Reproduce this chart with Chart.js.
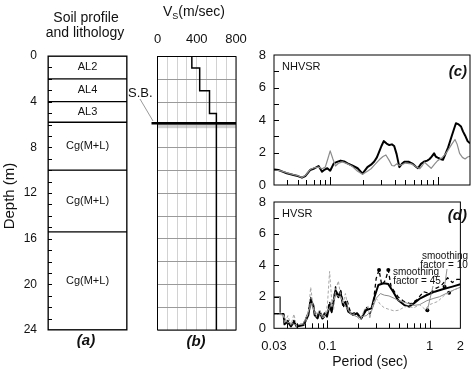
<!DOCTYPE html>
<html lang="en">
<head>
<meta charset="UTF-8">
<title>Soil profile, Vs profile and HVSR</title>
<script src="https://cdn.jsdelivr.net/npm/chart.js"></script>
<style>
  body { margin: 0; background: #fff; }
  #wrap { position: relative; width: 474px; height: 369px; }
  canvas { position: absolute; left: 0; top: 0; }
</style>
</head>
<body>
<div id="wrap">
  <canvas id="chartA" width="474" height="369"></canvas>
  <canvas id="chartB" width="474" height="369"></canvas>
  <canvas id="chartC" width="474" height="369"></canvas>
  <canvas id="chartD" width="474" height="369"></canvas>
</div>
<script>
// (a) soil layers
const layerNames = ['AL2', 'AL4', 'AL3', 'Cg(M+L)', 'Cg(M+L)', 'Cg(M+L)'];
const layerTop = [0, 2, 4, 5.8, 10, 15.4];
const layerBottom = [2, 4, 5.8, 10, 15.4, 24];

// (b) shear wave velocity profile
const vsDepth = [0, 1, 1, 3, 3, 5, 5, 24];
const vsValue = [350, 350, 430, 430, 530, 530, 600, 600];
const sbDepth = 5.85;

// (c) NHVSR
const periodC1 = [0.03,0.033,0.036,0.0394,0.042,0.0455,0.05,0.0546,0.0586,0.062,0.065,0.07,0.074,0.078,0.084,0.089,0.094,0.1,0.108,0.116,0.125,0.135,0.145,0.16,0.18,0.2,0.222,0.24,0.257,0.272,0.286,0.3,0.315,0.335,0.355,0.375,0.394,0.415,0.44,0.465,0.49,0.54,0.588,0.62,0.656,0.7,0.755,0.8,0.842,0.88,0.926,0.96,1.0,1.06,1.12,1.18,1.25,1.35,1.42,1.48,1.55,1.65,1.72,1.8,1.9,2.0];
const nhvsrBlack = [0.96,0.92,0.82,0.72,0.68,0.62,0.55,0.45,0.55,0.75,0.92,1.0,1.08,1.17,0.82,0.95,1.03,0.88,1.33,1.42,1.5,1.45,1.33,1.2,1.03,0.7,1.1,1.25,1.45,1.7,2.05,2.4,2.7,2.55,2.46,2.5,2.4,1.9,1.1,1.3,1.43,1.43,1.3,1.15,1.03,1.3,1.45,1.5,1.6,1.75,1.95,1.75,1.68,1.6,1.55,1.9,2.3,3.0,3.45,3.8,3.75,3.6,3.3,3.05,2.7,2.56];
const periodC2 = [0.03,0.036,0.042,0.05,0.0546,0.0586,0.065,0.07,0.078,0.084,0.09,0.095,0.1,0.106,0.112,0.12,0.13,0.145,0.16,0.18,0.2,0.222,0.24,0.26,0.286,0.31,0.33,0.355,0.375,0.394,0.415,0.44,0.465,0.5,0.57,0.62,0.68,0.72,0.755,0.8,0.87,0.94,1.0,1.08,1.18,1.25,1.35,1.45,1.52,1.6,1.7,1.8,1.9,2.0];
const nhvsrGray = [0.96,0.84,0.7,0.57,0.47,0.58,0.95,1.05,1.1,1.0,1.1,1.6,2.1,1.6,1.17,1.35,1.42,1.3,1.15,0.85,0.66,0.85,1.0,1.25,1.55,1.75,1.85,1.5,1.2,1.17,1.3,1.2,1.25,1.35,1.3,1.15,1.0,1.2,1.4,1.25,1.03,1.3,1.5,1.64,1.9,2.15,2.5,2.8,2.5,1.95,1.7,1.6,1.72,1.77];

// (d) HVSR
const periodD1 = [0.03,0.0372,0.038,0.0408,0.0439,0.0472,0.05,0.0586,0.065,0.0686,0.0727,0.075,0.08,0.084,0.089,0.094,0.099,0.105,0.11,0.12,0.127,0.134,0.142,0.15,0.16,0.18,0.193,0.214,0.24,0.27,0.286,0.315,0.355,0.394,0.44,0.49,0.565,0.63,0.7,0.81,0.94,1.12,1.34,1.67,2.0];
const hvsrSmooth45 = [0.9,0.9,0.25,0.42,0.12,0.42,0.12,0.21,0.84,1.79,1.47,0.84,0.63,1.05,0.63,0.95,0.74,1.47,1.05,2.42,2.0,2.32,1.47,1.68,1.05,0.84,0.95,0.63,1.16,1.26,1.9,2.74,2.85,2.8,2.32,1.79,1.47,1.37,1.58,1.9,2.11,2.32,2.47,2.64,2.79];
const periodD2 = [0.03,0.0372,0.038,0.041,0.044,0.047,0.05,0.058,0.065,0.0686,0.073,0.078,0.084,0.09,0.099,0.105,0.11,0.12,0.128,0.135,0.145,0.155,0.17,0.193,0.215,0.24,0.26,0.28,0.3,0.32,0.34,0.37,0.394,0.42,0.49,0.56,0.65,0.75,0.87,1.0,1.15,1.3,1.5,1.67,1.85,2.0];
const hvsrSmooth10 = [0.9,0.9,0.3,0.5,0.15,0.5,0.15,0.25,1.0,1.95,1.3,0.7,1.1,0.6,0.9,1.7,1.0,2.63,1.9,2.4,1.3,1.8,0.9,1.05,0.6,1.37,0.9,1.5,3.16,3.69,2.74,3.05,3.69,2.63,2.0,1.7,1.55,1.8,2.32,2.2,2.53,2.7,3.2,2.9,3.1,3.1];
const periodD3 = [0.03,0.037,0.04,0.045,0.05,0.058,0.065,0.069,0.075,0.084,0.094,0.105,0.12,0.134,0.15,0.17,0.2,0.24,0.27,0.3,0.33,0.36,0.4,0.45,0.5,0.6,0.7,0.8,0.94,1.1,1.25,1.5,1.75,2.0];
const hvsrGray = [0.9,0.85,0.4,0.3,0.2,0.3,1.0,1.6,1.0,0.9,0.8,1.3,2.1,2.0,1.4,0.9,0.7,0.8,1.1,1.9,2.2,2.1,2.05,1.9,1.75,1.6,1.45,1.5,1.75,1.9,2.0,2.25,2.45,2.6];
const periodD4 = [0.03,0.037,0.038,0.041,0.044,0.047,0.05,0.055,0.06,0.065,0.0686,0.072,0.077,0.084,0.09,0.096,0.1,0.105,0.11,0.115,0.12,0.128,0.135,0.142,0.15,0.16,0.175,0.19,0.21,0.23,0.25,0.26,0.28,0.3,0.33,0.36,0.4,0.45,0.5,0.55,0.6,0.7,0.8,0.9,1.0,1.2,1.4,1.7,2.0];
const hvsrRaw = [0.9,0.9,0.3,0.8,0.2,0.9,0.1,0.3,0.2,1.0,2.6,1.5,0.7,1.2,0.6,1.0,1.5,3.6,1.8,1.2,2.4,3.0,2.0,1.6,2.2,1.2,0.9,0.8,0.5,1.2,1.4,0.6,1.6,1.9,1.5,1.3,1.2,1.1,1.15,1.3,1.4,1.3,1.5,1.2,1.5,1.7,2.1,2.4,2.6];
const boxPeriod = [0.03, 0.0345, 0.0345];
const boxValue = [2.0, 2.0, 1.0];
const markPeriod = [0.32, 0.394, 1.4, 1.55, 0.95];
const markValue = [3.69, 3.69, 2.63, 2.25, 1.15];

const periodTicks = [0.03, 0.1, 1, 2];
const periodMinor = [0.04,0.05,0.06,0.07,0.08,0.09,0.2,0.3,0.4,0.5,0.6,0.7,0.8,0.9];
const periodMajor = [0.1, 1];

Chart.defaults.font.family = '"Liberation Sans", Arial, sans-serif';
Chart.defaults.color = '#111';

const FONT = '"Liberation Sans", Arial, sans-serif';

function txt(ctx, s, x, y, size, align, style) {
    ctx.font = (style ? style + ' ' : '') + size + 'px ' + FONT;
    ctx.textAlign = align || 'center';
    ctx.textBaseline = 'middle';
    ctx.fillStyle = '#111';
    ctx.fillText(s, x, y);
}

function frame(ctx, a) {
    ctx.save();
    ctx.strokeStyle = '#000';
    ctx.lineWidth = 1;
    ctx.strokeRect(a.left, a.top, a.right - a.left, a.bottom - a.top);
    ctx.restore();
}

function pts(xs, ys) {
    return xs.map((x, i) => ({ x: x, y: ys[i] }));
}

const baseOpts = {
    responsive: false,
    animation: false,
    events: [],
    plugins: { legend: { display: false }, tooltip: { enabled: false } }
};

// ---------- (a) Soil profile ----------
new Chart(document.getElementById('chartA'), {
    type: 'bar',
    data: {
        labels: ['profile'],
        datasets: layerNames.map((n, i) => ({
            label: n,
            data: [[layerTop[i], layerBottom[i]]],
            backgroundColor: '#fff',
            borderColor: '#000',
            borderWidth: 1,
            borderSkipped: false,
            grouped: false,
            barPercentage: 1,
            categoryPercentage: 1
        }))
    },
    options: {
        ...baseOpts,
        layout: { padding: { left: 0, top: 56, right: 474 - 127, bottom: 369 - 330 } },
        scales: {
            x: { display: false },
            y: {
                reverse: true, min: 0, max: 24,
                ticks: { stepSize: 4, padding: 11, font: { size: 12 }, color: '#111' },
                grid: { display: false, drawTicks: false },
                border: { display: false },
                afterFit: s => { s.width = 48; }
            }
        }
    },
    plugins: [{
        id: 'soilDecor',
        afterDraw(chart) {
            const { ctx, chartArea: a, scales: { y } } = chart;
            frame(ctx, a);
            ctx.save();
            ctx.strokeStyle = '#000';
            ctx.lineWidth = 1;
            ctx.beginPath();
            for (let d = 1; d < 24; d++) {
                const py = Math.round(y.getPixelForValue(d)) + 0.5;
                ctx.moveTo(a.left, py);
                ctx.lineTo(a.left + 4, py);
            }
            ctx.stroke();
            ctx.restore();
            const cx = (a.left + a.right) / 2;
            layerNames.forEach((n, i) => {
                txt(ctx, n, cx, y.getPixelForValue((layerTop[i] + layerBottom[i]) / 2), 11);
            });
            txt(ctx, 'Soil profile', 86, 18, 14);
            txt(ctx, 'and lithology', 85, 33, 14);
            txt(ctx, '(a)', 86, 341, 15, 'center', 'italic bold');
            ctx.save();
            ctx.translate(10, 196);
            ctx.rotate(-Math.PI / 2);
            txt(ctx, 'Depth (m)', 0, 0, 15);
            ctx.restore();
        }
    }]
});

// ---------- (b) Vs profile ----------
new Chart(document.getElementById('chartB'), {
    type: 'scatter',
    data: {
        datasets: [{
            data: pts(vsValue, vsDepth),
            showLine: true,
            borderColor: '#000',
            borderWidth: 1.5,
            pointRadius: 0,
            fill: false
        }]
    },
    options: {
        ...baseOpts,
        layout: { padding: { left: 157.5, top: 0, right: 474 - 236, bottom: 369 - 330 } },
        scales: {
            x: {
                type: 'linear', position: 'top', min: 0, max: 800,
                ticks: {
                    stepSize: 100, autoSkip: false, maxRotation: 0, minRotation: 0,
                    padding: 9, font: { size: 13 }, color: '#111',
                    callback: v => (v % 400 === 0 ? String(v) : '')
                },
                grid: { color: '#d2d2d2', drawTicks: false },
                border: { display: false },
                afterFit: s => { s.height = 56.5; }
            },
            y: {
                reverse: true, min: 0, max: 24,
                ticks: { display: false, stepSize: 2 },
                grid: { color: '#9a9a9a', drawTicks: false },
                border: { display: false },
                afterFit: s => { s.width = 0; }
            }
        }
    },
    plugins: [{
        id: 'vsDecor',
        beforeDatasetsDraw(chart) {
            const { ctx, chartArea: a, scales: { y } } = chart;
            const py = y.getPixelForValue(sbDepth);
            ctx.save();
            ctx.fillStyle = 'rgba(150,150,150,0.45)';
            ctx.fillRect(a.left, py, a.right - a.left, 5);
            ctx.strokeStyle = '#000';
            ctx.lineWidth = 2.5;
            ctx.beginPath();
            ctx.moveTo(a.left - 6, py);
            ctx.lineTo(a.right, py);
            ctx.stroke();
            ctx.restore();
        },
        afterDraw(chart) {
            const { ctx, chartArea: a } = chart;
            frame(ctx, a);
            // title V_S(m/sec)
            ctx.save();
            ctx.font = '14px ' + FONT;
            const w1 = ctx.measureText('V').width;
            const w3 = ctx.measureText('(m/sec)').width;
            ctx.font = '9px ' + FONT;
            const w2 = ctx.measureText('S').width;
            ctx.restore();
            let x0 = 194 - (w1 + w2 + w3) / 2;
            txt(ctx, 'V', x0, 12, 14, 'left');
            txt(ctx, 'S', x0 + w1, 17, 9, 'left');
            txt(ctx, '(m/sec)', x0 + w1 + w2, 12, 14, 'left');
            // S.B. label and leader
            txt(ctx, 'S.B.', 128, 93, 13, 'left');
            ctx.save();
            ctx.strokeStyle = '#999';
            ctx.lineWidth = 1;
            ctx.beginPath();
            ctx.moveTo(140, 99);
            ctx.lineTo(153, 121);
            ctx.stroke();
            ctx.restore();
            txt(ctx, '(b)', 196, 342, 15, 'center', 'italic bold');
        }
    }]
});

// ---------- shared helpers for (c) and (d) ----------
function hvsrTicks(chart) {
    const { ctx, chartArea: a, scales: { x, y } } = chart;
    frame(ctx, a);
    ctx.save();
    ctx.strokeStyle = '#000';
    ctx.lineWidth = 1;
    ctx.beginPath();
    for (let v = 1; v < 8; v++) {
        const py = Math.round(y.getPixelForValue(v)) + 0.5;
        ctx.moveTo(a.left, py);
        ctx.lineTo(a.left + 5, py);
    }
    periodMinor.forEach(p => {
        const px = Math.round(x.getPixelForValue(p)) + 0.5;
        ctx.moveTo(px, a.bottom);
        ctx.lineTo(px, a.bottom - 5);
    });
    periodMajor.forEach(p => {
        const px = Math.round(x.getPixelForValue(p)) + 0.5;
        ctx.moveTo(px, a.bottom);
        ctx.lineTo(px, a.bottom - 8);
    });
    ctx.stroke();
    ctx.restore();
}

function line(xs, ys, color, width, dash) {
    return {
        data: pts(xs, ys),
        showLine: true,
        borderColor: color,
        borderWidth: width,
        borderDash: dash || [],
        pointRadius: 0,
        fill: false,
        borderJoinStyle: 'round'
    };
}

const yHvsr = {
    min: 0, max: 8,
    ticks: { stepSize: 2, padding: 8, font: { size: 13 }, color: '#111' },
    grid: { display: false, drawTicks: false },
    border: { display: false },
    afterFit: s => { s.width = 20; }
};

// ---------- (c) NHVSR ----------
new Chart(document.getElementById('chartC'), {
    type: 'scatter',
    data: {
        datasets: [
            line(periodC2, nhvsrGray, '#8c8c8c', 1.2),
            line(periodC1, nhvsrBlack, '#000', 2)
        ]
    },
    options: {
        ...baseOpts,
        layout: { padding: { left: 254, top: 55, right: 4, bottom: 184 } },
        scales: {
            x: { type: 'logarithmic', min: 0.03, max: 2, display: false },
            y: yHvsr
        }
    },
    plugins: [{
        id: 'nhvsrDecor',
        afterDraw(chart) {
            const ctx = chart.ctx;
            hvsrTicks(chart);
            txt(ctx, 'NHVSR', 282, 67, 11, 'left');
            txt(ctx, '(c)', 467, 72, 15, 'right', 'italic bold');
        }
    }]
});

// ---------- (d) HVSR ----------
new Chart(document.getElementById('chartD'), {
    type: 'scatter',
    data: {
        datasets: [
            line(periodD4, hvsrRaw, '#a8a8a8', 1, [3, 2]),
            line(periodD3, hvsrGray, '#8c8c8c', 1),
            line(boxPeriod, boxValue, '#555', 1),
            line(periodD2, hvsrSmooth10, '#000', 1.3, [4, 3]),
            line(periodD1, hvsrSmooth45, '#000', 2),
            {
                data: pts(markPeriod, markValue),
                showLine: false,
                pointRadius: 2,
                pointBackgroundColor: '#000',
                pointBorderWidth: 0
            }
        ]
    },
    options: {
        ...baseOpts,
        layout: { padding: { left: 254, top: 202, right: 4, bottom: 10.7 } },
        scales: {
            x: {
                type: 'logarithmic', min: 0.03, max: 2,
                afterBuildTicks: s => { s.ticks = periodTicks.map(v => ({ value: v })); },
                ticks: {
                    autoSkip: false, maxRotation: 0, minRotation: 0,
                    padding: 10, font: { size: 13 }, color: '#111',
                    callback: v => String(v)
                },
                grid: { display: false, drawTicks: false },
                border: { display: false },
                afterFit: s => { s.height = 30; }
            },
            y: yHvsr
        }
    },
    plugins: [{
        id: 'hvsrDecor',
        afterDraw(chart) {
            const { ctx, scales: { x, y } } = chart;
            hvsrTicks(chart);
            txt(ctx, 'HVSR', 282, 214, 11, 'left');
            txt(ctx, '(d)', 467, 216, 15, 'right', 'italic bold');
            txt(ctx, 'smoothing', 445, 256, 10);
            txt(ctx, 'factor = 10', 444, 265, 10);
            txt(ctx, 'smoothing', 416, 272, 10);
            txt(ctx, 'factor = 45', 417, 281, 10);
            txt(ctx, 'Period (sec)', 370, 362, 14);
            // leaders to the marked points
            ctx.save();
            ctx.strokeStyle = '#777';
            ctx.lineWidth = 0.8;
            ctx.beginPath();
            ctx.moveTo(447, 269);
            ctx.lineTo(x.getPixelForValue(markPeriod[2]), y.getPixelForValue(markValue[2]));
            ctx.moveTo(433, 286);
            ctx.lineTo(x.getPixelForValue(markPeriod[4]), y.getPixelForValue(markValue[4]));
            ctx.stroke();
            ctx.restore();
        }
    }]
});
</script>
</body>
</html>
